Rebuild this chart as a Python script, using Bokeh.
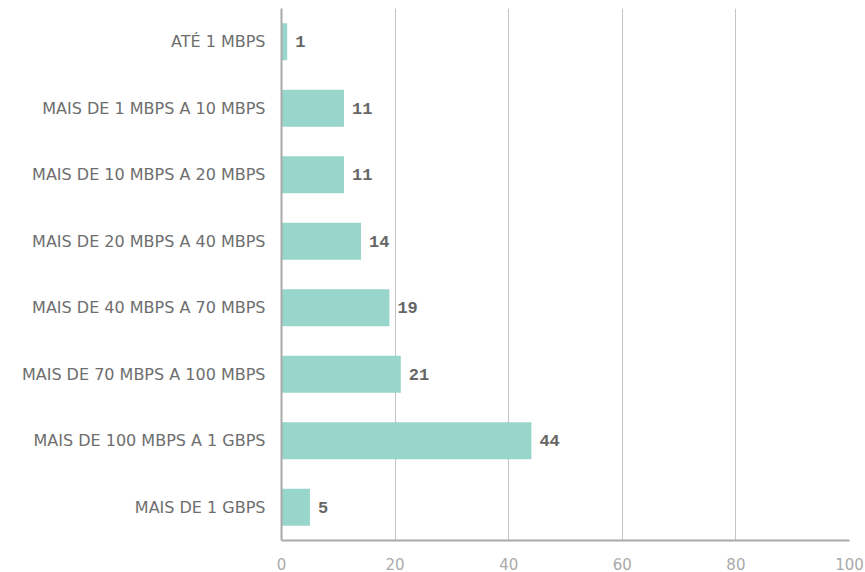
from bokeh.plotting import figure
from bokeh.models import FactorRange, Range1d, ColumnDataSource, FixedTicker
from bokeh.core.properties import value
from bokeh.embed import file_html
from bokeh.resources import INLINE

categories = ["ATÉ 1 MBPS", "MAIS DE 1 MBPS A 10 MBPS", "MAIS DE 10 MBPS A 20 MBPS",
              "MAIS DE 20 MBPS A 40 MBPS", "MAIS DE 40 MBPS A 70 MBPS",
              "MAIS DE 70 MBPS A 100 MBPS", "MAIS DE 100 MBPS A 1 GBPS", "MAIS DE 1 GBPS"]
values = [1, 11, 11, 14, 19, 21, 44, 5]
x_ticks = [0, 20, 40, 60, 80, 100]

src = ColumnDataSource(dict(cat=categories, val=values, lab=[str(v) for v in values]))

p = figure(width=865, height=572, output_backend="svg", toolbar_location=None,
           y_range=FactorRange(*list(reversed(categories)), range_padding=0),
           x_range=Range1d(0, 100),
           min_border_left=281, min_border_right=16, min_border_top=8, min_border_bottom=32)
p.outline_line_color = None
p.background_fill_color = "white"
p.border_fill_color = "white"

p.hbar(y="cat", right="val", left=0, height=0.56, source=src, color="#98d5ca", line_color=None)
p.text(x="val", y="cat", text="lab", source=src, x_offset=8, text_baseline="middle",
       text_font=value("Liberation Mono"), text_font_style="bold", text_font_size="17px",
       text_color="#666666")

p.ygrid.grid_line_color = None
p.xgrid.grid_line_color = "#c4c4c4"
p.xgrid.grid_line_width = 1
p.xaxis.ticker = FixedTicker(ticks=x_ticks)
p.xaxis.axis_line_color = "#aaaaaa"
p.xaxis.axis_line_width = 2
p.xaxis.major_tick_line_color = None
p.xaxis.minor_tick_line_color = None
p.xaxis.major_label_standoff = 11
p.xaxis.major_label_text_color = "#aaaaaa"
p.xaxis.major_label_text_font = "DejaVu Sans"
p.xaxis.major_label_text_font_size = "15px"

p.yaxis.axis_line_color = "#aaaaaa"
p.yaxis.axis_line_width = 2
p.yaxis.major_tick_line_color = None
p.yaxis.minor_tick_line_color = None
p.yaxis.major_label_standoff = 10
p.yaxis.major_label_text_color = "#6e6e6e"
p.yaxis.major_label_text_font = "DejaVu Sans"
p.yaxis.major_label_text_font_size = "16px"

open("out.html", "w").write(file_html(p, INLINE))
